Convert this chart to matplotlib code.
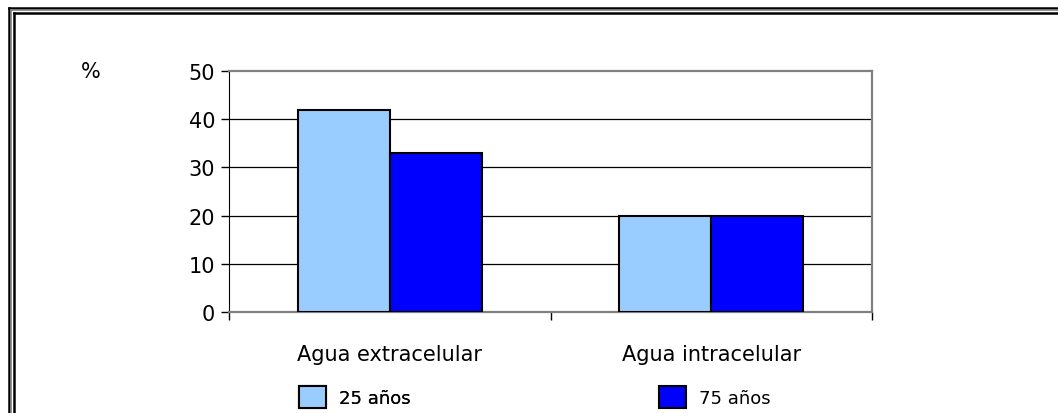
import numpy as np
from matplotlib import pyplot as plt
from matplotlib.lines import Line2D

# datos
categorias = ['Agua extracelular', 'Agua intracelular']
series = ['25 años', '75 años']
valores_25 = [42, 20]
valores_75 = [33, 20]
colores = ['#99CCFF', '#0000FF']

W, H = 1058, 414
fig = plt.figure(figsize=(W / 100, H / 100), dpi=100)
plt.rcParams['font.family'] = ['DejaVu Sans']

def fx(px):
    return px / W

def fy(py):
    return 1 - py / H

# marco doble
for pos, col, lw in [(9, 'black', 1.8), (11, '#808080', 1.2), (14, 'black', 1.8)]:
    fig.add_artist(Line2D([fx(pos), fx(pos)], [fy(pos), fy(H + 20)], color=col, lw=lw, transform=fig.transFigure))
    fig.add_artist(Line2D([fx(pos), fx(W + 20)], [fy(pos), fy(pos)], color=col, lw=lw, transform=fig.transFigure))

ax = fig.add_axes([fx(229), fy(313), fx(872) - fx(229), fy(72) - fy(313)])

x = np.arange(len(categorias))
ancho = 0.286
b1 = ax.bar(x - ancho / 2, valores_25, ancho, color=colores[0], edgecolor='black', linewidth=1.5, label=series[0], zorder=3)
b2 = ax.bar(x + ancho / 2, valores_75, ancho, color=colores[1], edgecolor='black', linewidth=1.5, label=series[1], zorder=3)

ax.set_xlim(-0.5, 1.5)
ax.set_ylim(0, 50)
ax.set_yticks([0, 10, 20, 30, 40, 50])
ax.tick_params(axis='y', labelsize=15, length=6, width=1, pad=4)
for v in [10, 20, 30, 40]:
    ax.axhline(v, color='black', lw=0.9, zorder=1)

ax.set_xticks([-0.5, 0.5, 1.5])
ax.set_xticklabels(['', '', ''])
ax.tick_params(axis='x', which='major', length=6, width=1, direction='out')
ax.set_xticks(x, minor=True)
ax.set_xticklabels(categorias, minor=True)
ax.tick_params(axis='x', which='minor', length=0, labelsize=15, pad=23)

ax.spines['left'].set_color('black')
for s in ['top', 'right', 'bottom']:
    ax.spines[s].set_color('#808080')
    ax.spines[s].set_linewidth(1.6)

fig.text(fx(91), fy(72), '%', fontsize=15, ha='center', va='center')

# leyenda
opts = dict(frameon=False, fontsize=13, handlelength=1.5, handleheight=1.45, handletextpad=0.7,
            borderpad=0, borderaxespad=0, loc='center left')
ley1 = fig.legend(handles=[b1], bbox_to_anchor=(fx(299), fy(398)), **opts)
fig.add_artist(ley1)
fig.legend(handles=[b2], bbox_to_anchor=(fx(659), fy(398)), **opts)

fig.savefig('out.png', dpi=100)
